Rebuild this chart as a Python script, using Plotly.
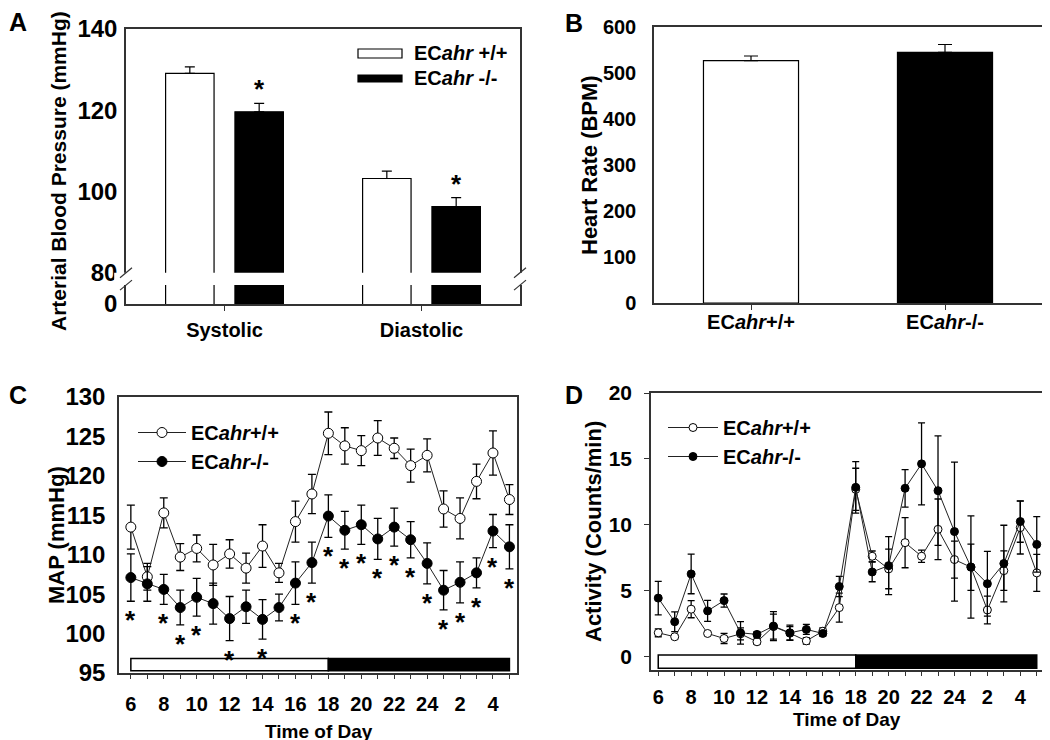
import plotly.graph_objects as go

W, H = 1050, 740
OFF = 8  # page body margin of the rendered html
FONT = "Arial, Liberation Sans, sans-serif"

# ---------------- Panel A: arterial blood pressure ----------------
bp_categories = ["Systolic", "Diastolic"]
bp_wt = [129.1, 103.2]
bp_wt_err = [1.6, 1.8]
bp_ko = [119.6, 96.3]
bp_ko_err = [2.1, 2.2]
bp_sig = [1, 1]
bp_tickvals = [72.3, 80, 100, 120, 140]
bp_ticktext = ["0", "80", "100", "120", "140"]

# ---------------- Panel B: heart rate ----------------
hr_groups = ["EC<i>ahr</i>+/+", "EC<i>ahr</i>-/-"]
hr_values = [527, 545]
hr_err = [10, 17]

# ---------------- Time axis (C, D) ----------------
hours = [6, 7, 8, 9, 10, 11, 12, 13, 14, 15, 16, 17, 18, 19, 20, 21, 22, 23, 24, 1, 2, 3, 4, 5]
hour_labels = [str(h) if i % 2 == 0 else "" for i, h in enumerate(hours)]
light_start, dark_start, period_end = 0, 12, 23

# ---------------- Panel C: MAP ----------------
map_wt = [113.5, 107.2, 115.3, 109.7, 110.8, 108.7, 110.1, 108.3, 111.1, 107.7, 114.2, 117.7,
          125.4, 123.8, 123.2, 124.8, 123.5, 121.3, 122.6, 115.8, 114.6, 119.3, 122.9, 117.0]
map_wt_err = [2.8, 1.7, 1.9, 1.7, 1.7, 2.6, 1.8, 1.9, 2.7, 1.2, 2.6, 2.5,
              2.7, 2.3, 1.9, 2.2, 1.3, 2.1, 2.1, 2.3, 2.6, 2.2, 2.8, 1.9]
map_ko = [107.1, 106.3, 105.6, 103.3, 104.6, 103.8, 101.9, 103.4, 101.8, 103.3, 106.4, 109.0,
          114.9, 113.1, 113.8, 112.0, 113.5, 111.9, 108.9, 105.5, 106.5, 107.7, 113.0, 111.0]
map_ko_err = [3.0, 2.2, 1.9, 2.2, 2.4, 2.6, 2.8, 2.1, 2.5, 1.7, 2.7, 2.6,
              2.7, 2.4, 2.5, 2.6, 2.4, 2.3, 2.6, 2.5, 2.6, 1.9, 2.1, 2.8]
map_sig = [1, 0, 1, 1, 1, 0, 1, 0, 1, 0, 1, 1, 1, 1, 1, 1, 1, 1, 1, 1, 1, 1, 1, 1]

# ---------------- Panel D: activity ----------------
act_wt = [1.83, 1.53, 3.62, 1.78, 1.40, 1.75, 1.15, 2.30, 1.80, 1.22, 1.95, 3.74,
          12.70, 7.63, 6.67, 8.66, 7.63, 9.67, 7.38, 6.80, 3.56, 6.54, 9.80, 6.37]
act_wt_err = [0.30, 0.15, 0.65, 0.15, 0.38, 0.45, 0.20, 0.95, 0.50, 0.25, 0.25, 1.10,
              1.60, 0.40, 1.50, 1.90, 0.46, 2.30, 1.40, 1.75, 1.05, 1.50, 2.00, 1.40]
act_ko = [4.46, 2.67, 6.29, 3.49, 4.27, 1.83, 1.71, 2.34, 1.83, 2.09, 1.78, 5.34,
          12.85, 6.44, 6.92, 12.78, 14.63, 12.60, 9.50, 6.82, 5.55, 7.08, 10.26, 8.53]
act_ko_err = [1.27, 0.75, 1.50, 0.80, 0.50, 0.85, 0.20, 1.10, 0.58, 0.38, 0.20, 0.77,
              1.95, 0.74, 2.20, 1.42, 3.10, 4.15, 5.27, 3.87, 2.45, 2.90, 1.57, 2.10]

wt_name = "EC<i>ahr</i>+/+"
ko_name = "EC<i>ahr</i>-/-"


def px(x):
    return (x - OFF) / W


def py(y):
    return 1 - (y - OFF) / H


AX = "#333333"
fig = go.Figure()

# ---- A bars ----
fig.add_trace(go.Bar(x=bp_categories, y=bp_wt, width=0.246, offset=-0.299,
                     marker=dict(color="white", line=dict(color="black", width=1.2)),
                     error_y=dict(type="data", array=bp_wt_err, arrayminus=[0] * len(bp_wt),
                                  symmetric=False, color="black", thickness=1.2, width=5),
                     xaxis="x", yaxis="y", showlegend=False))
fig.add_trace(go.Bar(x=bp_categories, y=bp_ko, width=0.246, offset=0.053,
                     marker=dict(color="black", line=dict(color="black", width=1.2)),
                     error_y=dict(type="data", array=bp_ko_err, arrayminus=[0] * len(bp_ko),
                                  symmetric=False, color="black", thickness=1.2, width=5),
                     xaxis="x", yaxis="y", showlegend=False))

# ---- B bars ----
fig.add_trace(go.Bar(x=hr_groups, y=hr_values, width=0.49,
                     marker=dict(color=["white", "black"], line=dict(color="black", width=1.2)),
                     error_y=dict(type="data", array=hr_err, arrayminus=[0] * len(hr_err),
                                  symmetric=False, color="black", thickness=1.2, width=7),
                     xaxis="x2", yaxis="y2", showlegend=False))

idx = list(range(len(hours)))

# ---- C lines ----
fig.add_trace(go.Scatter(x=idx, y=map_wt, mode="lines+markers", name=wt_name,
                         line=dict(color="#222222", width=1),
                         marker=dict(symbol="circle", size=10, color="white",
                                     line=dict(color="black", width=1)),
                         error_y=dict(type="data", array=map_wt_err, color="black",
                                      thickness=1.3, width=4),
                         xaxis="x3", yaxis="y3", legend="legend"))
fig.add_trace(go.Scatter(x=idx, y=map_ko, mode="lines+markers", name=ko_name,
                         line=dict(color="#222222", width=1),
                         marker=dict(symbol="circle", size=10, color="black",
                                     line=dict(color="black", width=1)),
                         error_y=dict(type="data", array=map_ko_err, color="black",
                                      thickness=1.3, width=4),
                         xaxis="x3", yaxis="y3", legend="legend"))

# ---- D lines ----
fig.add_trace(go.Scatter(x=idx, y=act_wt, mode="lines+markers", name=wt_name,
                         line=dict(color="#222222", width=1),
                         marker=dict(symbol="circle", size=8, color="white",
                                     line=dict(color="black", width=1)),
                         error_y=dict(type="data", array=act_wt_err, color="black",
                                      thickness=1.3, width=3.5),
                         xaxis="x4", yaxis="y4", legend="legend2"))
fig.add_trace(go.Scatter(x=idx, y=act_ko, mode="lines+markers", name=ko_name,
                         line=dict(color="#222222", width=1),
                         marker=dict(symbol="circle", size=8, color="black",
                                     line=dict(color="black", width=1)),
                         error_y=dict(type="data", array=act_ko_err, color="black",
                                      thickness=1.3, width=3.5),
                         xaxis="x4", yaxis="y4", legend="legend2"))

shapes = []
annotations = []

# ---- A broken axis ----
shapes.append(dict(type="rect", xref="x domain", yref="y", x0=-0.03, x1=1.03, y0=76.95, y1=80,
                   fillcolor="white", line=dict(width=0), layer="above"))
for xa in (0, 1):
    for ya in (80, 76.95):
        shapes.append(dict(type="line", xref="x domain", yref="y", xsizemode="pixel",
                           ysizemode="pixel", xanchor=xa, yanchor=ya, x0=-6, x1=6, y0=-5, y1=5,
                           line=dict(color=AX, width=1.2), layer="above"))

# ---- A significance ----
for i, s in enumerate(bp_sig):
    if s:
        annotations.append(dict(x=i + 0.176, y=bp_ko[i] + bp_ko_err[i], xref="x", yref="y",
                                text="*", showarrow=False, yanchor="middle", yshift=14,
                                font=dict(size=26, color="black")))

# ---- A legend (manual swatches) ----
shapes.append(dict(type="rect", xref="paper", yref="paper", x0=px(358), x1=px(402),
                   y0=py(58), y1=py(49), fillcolor="white", line=dict(color="black", width=1.2)))
shapes.append(dict(type="rect", xref="paper", yref="paper", x0=px(358), x1=px(402),
                   y0=py(82), y1=py(75), fillcolor="black", line=dict(color="black", width=1.2)))
annotations.append(dict(x=px(412), y=py(53.5), xref="paper", yref="paper", xanchor="left",
                        yanchor="middle", text="EC<i>ahr</i> +/+", showarrow=False,
                        font=dict(size=20, color="black")))
annotations.append(dict(x=px(412), y=py(78.5), xref="paper", yref="paper", xanchor="left",
                        yanchor="middle", text="EC<i>ahr</i> -/-", showarrow=False,
                        font=dict(size=20, color="black")))

# ---- C significance ----
for i, s in enumerate(map_sig):
    if s:
        annotations.append(dict(x=i, y=map_ko[i] - map_ko_err[i] - 1.65, xref="x3", yref="y3",
                                text="*", showarrow=False, yanchor="middle", yshift=-6,
                                font=dict(size=26, color="black")))

# ---- light / dark bars ----
for xr, yr, y0, y1 in (("x3", "y3", 95.3, 96.85), ("x4", "y4", -0.85, 0.15)):
    shapes.append(dict(type="rect", xref=xr, yref=yr, x0=light_start, x1=dark_start,
                       y0=y0, y1=y1, fillcolor="white", line=dict(color="black", width=1.5)))
    shapes.append(dict(type="rect", xref=xr, yref=yr, x0=dark_start, x1=period_end,
                       y0=y0, y1=y1, fillcolor="black", line=dict(color="black", width=1.5)))

# ---- panel letters ----
for letter, x, y in (("A", 18, 22), ("B", 574, 23), ("C", 18, 395), ("D", 574, 395)):
    annotations.append(dict(x=px(x), y=py(y), xref="paper", yref="paper", text=letter,
                            showarrow=False, xanchor="center", yanchor="middle",
                            font=dict(size=25, color="black")))

# ---- axis titles ----
for text, x, y, fs in (("Arterial Blood Pressure (mmHg)", 59, 171, 21),
                       ("Heart Rate (BPM)", 590, 165, 22),
                       ("MAP (mmHg)", 56, 535, 22), ("Activity (Counts/min)", 593, 532, 22)):
    annotations.append(dict(x=px(x), y=py(y), xref="paper", yref="paper", text=text,
                            textangle=-90, showarrow=False, xanchor="center", yanchor="middle",
                            font=dict(size=fs, color="black")))
for x, y in ((319, 731), (847, 719)):
    annotations.append(dict(x=px(x), y=py(y), xref="paper", yref="paper", text="Time of Day",
                            showarrow=False, xanchor="center", yanchor="middle",
                            font=dict(size=19, color="black")))

common = dict(showline=True, linecolor=AX, linewidth=1.5, mirror=True, showgrid=False,
              zeroline=False, automargin=False)

fig.update_layout(
    template="none",
    width=W, height=H, margin=dict(l=0, r=0, t=0, b=0, pad=0),
    paper_bgcolor="white", plot_bgcolor="white",
    font=dict(family=FONT, color="black", weight="bold"),
    barmode="overlay",
    xaxis=dict(domain=[px(126), px(520)], anchor="y", type="category", range=[-0.5, 1.5],
               ticks="outside", ticklen=5, tickcolor=AX, tickfont=dict(size=20),
               ticklabelstandoff=2, **common),
    yaxis=dict(domain=[py(304), py(29)], anchor="x", range=[72.3, 140],
               tickvals=bp_tickvals, ticktext=bp_ticktext, ticks="", tickfont=dict(size=24),
               ticklabelstandoff=2, **common),
    xaxis2=dict(domain=[px(654), px(1042)], anchor="y2", type="category", range=[-0.5, 1.5],
                ticks="outside", ticklen=5, tickcolor=AX, tickfont=dict(size=20),
                ticklabelstandoff=-5, **common),
    yaxis2=dict(domain=[py(303), py(27)], anchor="x2", range=[0, 600], dtick=100,
                ticks="", tickfont=dict(size=20), ticklabelstandoff=12, **common),
    xaxis3=dict(domain=[px(119), px(517)], anchor="y3", range=[-0.72, 23.46],
                tickvals=idx, ticktext=hour_labels, ticks="outside", ticklen=4, tickcolor=AX,
                tickfont=dict(size=20), ticklabelstandoff=8, **common),
    yaxis3=dict(domain=[py(673), py(397)], anchor="x3", range=[95, 130], dtick=5,
                ticks="", tickfont=dict(size=24), ticklabelstandoff=7, **common),
    xaxis4=dict(domain=[px(651), px(1043)], anchor="y4", range=[-0.44, 23.38],
                tickvals=idx, ticktext=hour_labels, ticks="outside", ticklen=5, tickcolor=AX,
                tickfont=dict(size=20), ticklabelstandoff=4, **common),
    yaxis4=dict(domain=[py(669.5), py(393)], anchor="x4", range=[-0.95, 20], dtick=5,
                ticks="outside", ticklen=5, tickcolor=AX, tickfont=dict(size=21),
                ticklabelstandoff=8, **common),
    legend=dict(x=px(133), y=py(413), xanchor="left", yanchor="top", bgcolor="rgba(0,0,0,0)",
                font=dict(size=20, color="black"), itemwidth=48, tracegroupgap=0,
                borderwidth=0),
    legend2=dict(x=px(663), y=py(408), xanchor="left", yanchor="top", bgcolor="rgba(0,0,0,0)",
                 font=dict(size=20, color="black"), itemwidth=50, tracegroupgap=0,
                 borderwidth=0),
    showlegend=True,
    shapes=shapes,
    annotations=annotations,
)

fig.write_html("out.html")
